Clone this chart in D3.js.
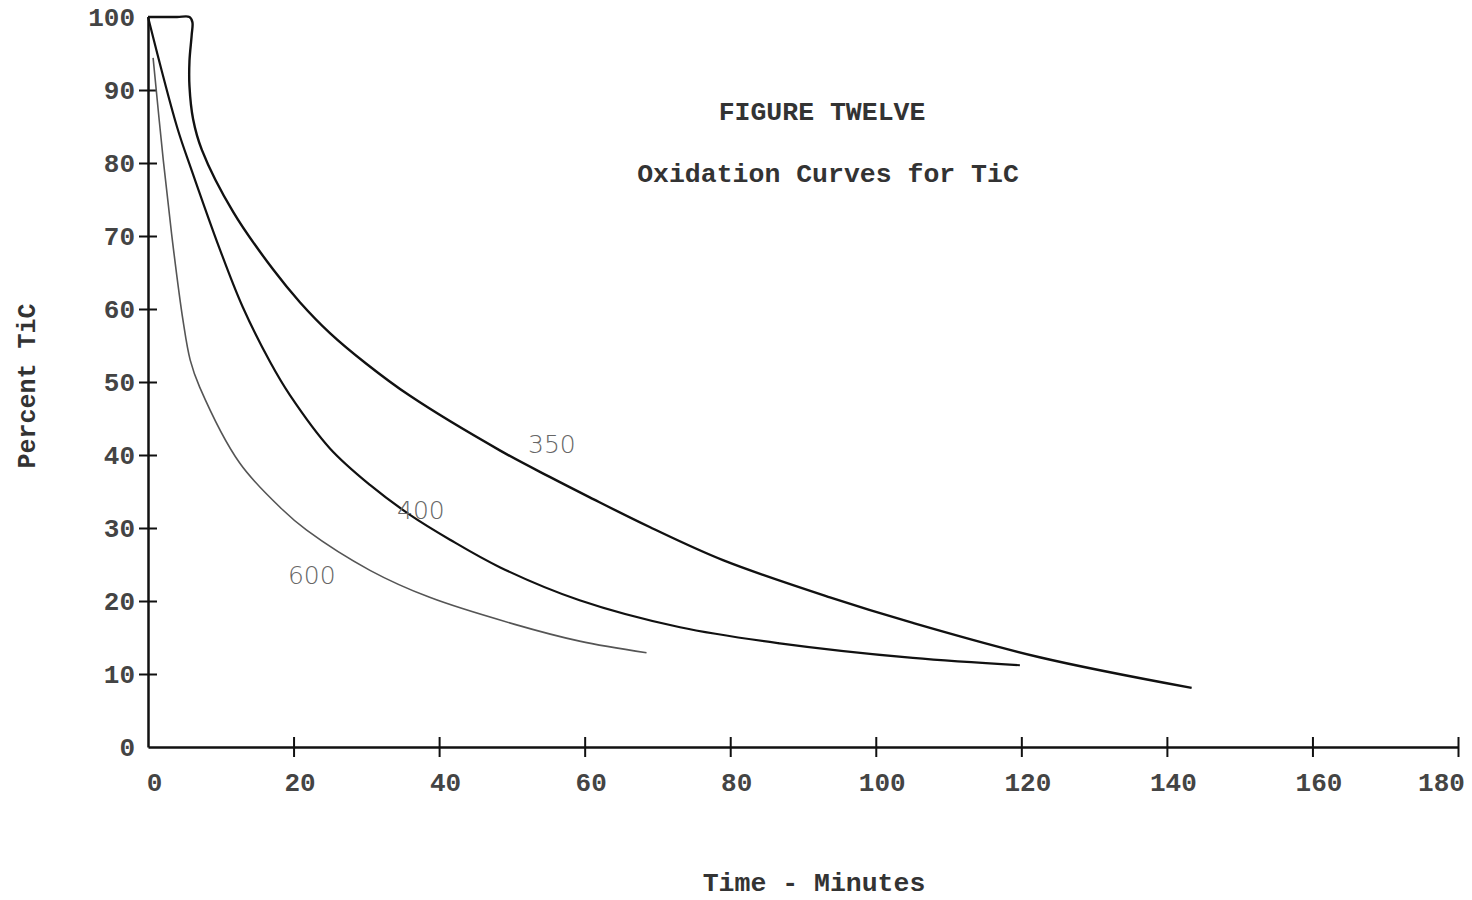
<!DOCTYPE html>
<html>
<head>
<meta charset="utf-8">
<script src="https://cdn.jsdelivr.net/npm/d3@7"></script>
<style>
  body { margin: 0; background: #fff; }
  text { font-family: "Liberation Mono", "DejaVu Sans Mono", monospace; }
</style>
</head>
<body>
<svg width="1472" height="900"></svg>
<script>
// values: [minutes, percent TiC]
const curve350 = [
  [0, 100], [4.0, 100], [5.7, 100], [6.1, 99.3], [6.0, 97.5], [5.7, 94.0],
  [5.7, 90.5], [6.2, 86.0], [7.4, 81.8], [11.7, 73.3], [17.2, 65.4],
  [20.9, 60.9], [25.0, 56.7], [30.0, 52.5], [36.0, 48.1], [48.4, 40.6],
  [55.2, 37.0], [60.7, 34.2], [69.0, 30.1], [79.0, 25.6], [93.7, 20.5],
  [105.1, 17.0], [122.5, 12.3], [143.4, 8.1]
];
const curve400 = [
  [0, 100], [4.0, 84.9], [6.0, 79.0], [9.9, 68.1], [13.0, 60.3],
  [16.8, 52.7], [19.5, 48.2], [25.0, 40.9], [30.5, 35.9], [36.0, 31.8],
  [41.5, 28.4], [48.4, 24.6], [59.3, 20.1], [73.1, 16.4], [86.8, 14.2],
  [105.1, 12.2], [119.8, 11.2]
];
const curve600 = [
  [0.7, 94.4], [2.1, 80.4], [3.4, 69.0], [4.8, 58.5], [5.8, 53.0],
  [7.1, 49.3], [12.6, 38.9], [18.5, 32.5], [21.8, 29.7], [30.5, 24.2],
  [38.7, 20.5], [50.4, 16.8], [59.3, 14.5], [68.5, 12.9]
];
const curveLabels = [
  { text: "350", t: 55.5, v: 41.5 },
  { text: "400", t: 37.5, v: 32.5 },
  { text: "600", t: 22.5, v: 23.5 }
];
const xTicks = [0, 20, 40, 60, 80, 100, 120, 140, 160, 180];
const yTicks = [0, 10, 20, 30, 40, 50, 60, 70, 80, 90, 100];

const svg = d3.select("svg");

const x = d3.scaleLinear().domain([0, 180]).range([148, 1458]);
const y = d3.scaleLinear().domain([0, 100]).range([747, 17]);

const ink = "#111";
const grey = "#555";

// x axis
const xAxis = svg.append("g")
  .attr("transform", `translate(0,${y(0)})`)
  .call(d3.axisBottom(x).tickValues(xTicks).tickSize(0).tickPadding(28));
xAxis.select(".domain").attr("stroke", ink).attr("stroke-width", 2.5);
xAxis.selectAll(".tick")
  .filter(d => d !== 0)
  .append("line")
  .attr("y1", -10).attr("y2", 10)
  .attr("stroke", ink).attr("stroke-width", 2);
xAxis.selectAll(".tick text")
  .attr("font-size", 26).attr("fill", "#444").attr("font-weight", "bold")
  .attr("dy", "0.35em").attr("y", 35)
  .attr("x", d => d === 180 ? -17 : 6)
  .text(d => d);

// y axis
const yAxis = svg.append("g")
  .attr("transform", `translate(${x(0)},0)`)
  .call(d3.axisLeft(y).tickValues(yTicks).tickSize(0).tickPadding(13));
yAxis.select(".domain").attr("stroke", ink).attr("stroke-width", 2.5);
yAxis.selectAll(".tick")
  .filter(d => d !== 0 && d !== 100)
  .append("line")
  .attr("x1", -9).attr("x2", 9)
  .attr("stroke", ink).attr("stroke-width", 2);
yAxis.selectAll(".tick text")
  .attr("font-size", 26).attr("fill", "#444").attr("font-weight", "bold");

// curves
const line = d3.line()
  .x(d => x(d[0]))
  .y(d => y(d[1]))
  .curve(d3.curveCatmullRom.alpha(0.5));

svg.append("path").datum(curve350)
  .attr("d", line).attr("fill", "none")
  .attr("stroke", ink).attr("stroke-width", 2.4);

svg.append("path").datum(curve400)
  .attr("d", line).attr("fill", "none")
  .attr("stroke", ink).attr("stroke-width", 2.2);

svg.append("path").datum(curve600)
  .attr("d", line).attr("fill", "none")
  .attr("stroke", grey).attr("stroke-width", 1.6);

// hand-written curve labels
svg.append("g")
  .selectAll("text")
  .data(curveLabels)
  .join("text")
  .attr("x", d => x(d.t))
  .attr("y", d => y(d.v))
  .attr("text-anchor", "middle")
  .attr("dy", "0.35em")
  .attr("font-weight", 300)
  .attr("font-size", 25)
  .attr("fill", "#666")
  .style("font-family", "'DejaVu Sans', sans-serif")
  .text(d => d.text);

// titles
svg.append("text")
  .attr("x", 822).attr("y", 111)
  .attr("text-anchor", "middle").attr("dy", "0.35em")
  .attr("font-size", 26.5).attr("font-weight", "bold").attr("fill", "#333")
  .text("FIGURE TWELVE");

svg.append("text")
  .attr("x", 828).attr("y", 173)
  .attr("text-anchor", "middle").attr("dy", "0.35em")
  .attr("font-size", 26.5).attr("font-weight", "bold").attr("fill", "#333")
  .text("Oxidation Curves for TiC");

svg.append("text")
  .attr("x", 814).attr("y", 882)
  .attr("text-anchor", "middle").attr("dy", "0.35em")
  .attr("font-size", 26.5).attr("font-weight", "bold").attr("fill", "#333")
  .text("Time - Minutes");

svg.append("text")
  .attr("transform", "translate(26,386) rotate(-90)")
  .attr("text-anchor", "middle").attr("dy", "0.35em")
  .attr("font-size", 25).attr("font-weight", "bold").attr("fill", "#333")
  .text("Percent TiC");
</script>
</body>
</html>
